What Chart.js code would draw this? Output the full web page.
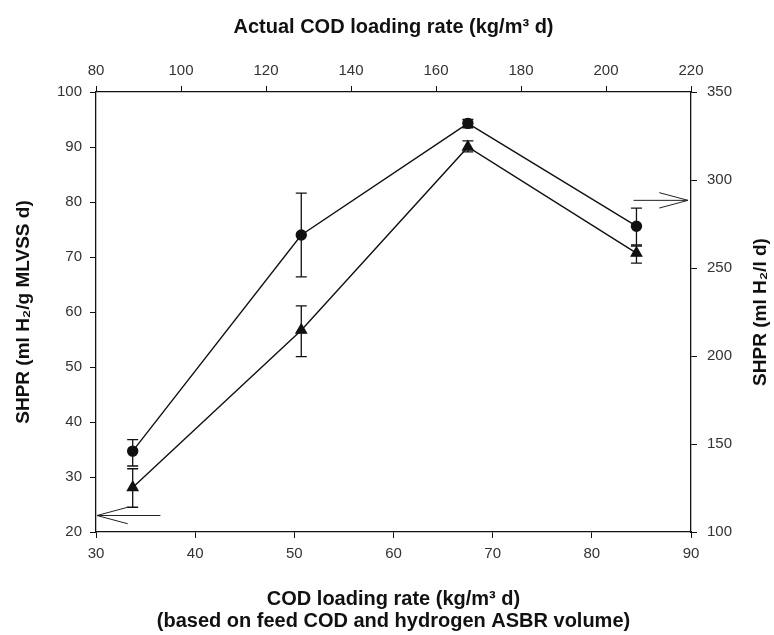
<!DOCTYPE html>
<html>
<head>
<meta charset="utf-8">
<script src="https://cdn.jsdelivr.net/npm/chart.js@4.4.1/dist/chart.umd.min.js"></script>
<style>
  html, body { margin: 0; padding: 0; background: #ffffff; }
  #wrap { width: 774px; height: 635px; position: relative; }
</style>
</head>
<body>
<div id="wrap"><canvas id="c" width="774" height="635"></canvas></div>
<script>
// ---- data ----
const codLoading = [33.7, 50.7, 67.5, 84.5];           // bottom axis (kg/m3 d)
const shprCircle = [34.7, 74.0, 94.3, 75.6];           // ml H2/g MLVSS d
const circleErrLow = [32.0, 66.4, 93.5, 72.2];
const circleErrHigh = [36.8, 81.6, 95.0, 78.9];
const shprTriangle = [28.1, 56.7, 90.0, 70.7];
const triangleErrLow = [24.5, 51.9, 89.1, 68.9];
const triangleErrHigh = [31.5, 61.1, 91.1, 72.0];

// annotation arrows (x in bottom-axis units, y in left-axis units)
const leftArrowX = [33.2, 30.1, 33.2, null, 30.1, 36.5];
const leftArrowY = [24.5, 23.0, 21.5, null, 23.0, 23.0];
const rightArrowX = [86.8, 89.7, 86.8, null, 89.7, 84.2];
const rightArrowY = [81.7, 80.3, 78.9, null, 80.3, 80.3];

// axis ranges / ticks
const bottomTicks = [30, 40, 50, 60, 70, 80, 90];
const topTicks = [80, 100, 120, 140, 160, 180, 200, 220];
const leftTicks = [20, 30, 40, 50, 60, 70, 80, 90, 100];
const rightTicks = [100, 150, 200, 250, 300, 350];

const rightTitle = 'SHPR (ml H\u2082/l d)';

const toXY = (xs, ys) => xs.map((x, i) => (x === null ? { x: null, y: null } : { x: x, y: ys[i] }));

const FONT = "'Liberation Sans', Arial, Helvetica, sans-serif";

const errorBars = {
  id: 'errorBars',
  afterDatasetsDraw(chart) {
    const ctx = chart.ctx;
    const xs = chart.scales.x, ys = chart.scales.y;
    const sets = [[circleErrLow, circleErrHigh], [triangleErrLow, triangleErrHigh]];
    ctx.save();
    ctx.strokeStyle = '#111';
    ctx.lineWidth = 1.3;
    sets.forEach(([lo, hi]) => {
      codLoading.forEach((xv, i) => {
        const px = xs.getPixelForValue(xv);
        const y1 = ys.getPixelForValue(lo[i]);
        const y2 = ys.getPixelForValue(hi[i]);
        ctx.beginPath();
        ctx.moveTo(px, y1); ctx.lineTo(px, y2);
        ctx.moveTo(px - 5.5, y1); ctx.lineTo(px + 5.5, y1);
        ctx.moveTo(px - 5.5, y2); ctx.lineTo(px + 5.5, y2);
        ctx.stroke();
      });
    });
    ctx.restore();
  }
};

// right axis title, read bottom-to-top like the reference
const rightTitlePlugin = {
  id: 'rightTitle',
  afterDraw(chart) {
    const ctx = chart.ctx;
    const a = chart.chartArea;
    ctx.save();
    ctx.translate(761, (a.top + a.bottom) / 2);
    ctx.rotate(-Math.PI / 2);
    ctx.font = "bold 19px " + FONT;
    ctx.fillStyle = '#111';
    ctx.textAlign = 'center';
    ctx.textBaseline = 'middle';
    ctx.fillText(rightTitle, 0, 0);
    ctx.restore();
  }
};

const axisCommon = (tickLen) => ({
  grid: { display: true, drawOnChartArea: false, drawTicks: true, tickLength: tickLen, color: '#111', lineWidth: 1 },
  border: { display: true, color: '#111', width: 1.3 },
});

new Chart(document.getElementById('c'), {
  type: 'line',
  data: {
    datasets: [
      {
        label: 'circle',
        data: toXY(codLoading, shprCircle),
        borderColor: '#111', backgroundColor: '#111', borderWidth: 1.4,
        pointStyle: 'circle', pointRadius: 5, pointBackgroundColor: '#111', pointBorderColor: '#111',
        xAxisID: 'x', yAxisID: 'y', tension: 0
      },
      {
        label: 'triangle',
        data: toXY(codLoading, shprTriangle),
        borderColor: '#111', backgroundColor: '#111', borderWidth: 1.4,
        pointStyle: 'triangle', pointRadius: 6, pointBackgroundColor: '#111', pointBorderColor: '#111',
        xAxisID: 'x', yAxisID: 'y', tension: 0
      },
      {
        label: 'arrowLeft',
        data: toXY(leftArrowX, leftArrowY),
        borderColor: '#222', borderWidth: 1, pointRadius: 0, spanGaps: false,
        xAxisID: 'x', yAxisID: 'y', tension: 0
      },
      {
        label: 'arrowRight',
        data: toXY(rightArrowX, rightArrowY),
        borderColor: '#222', borderWidth: 1, pointRadius: 0, spanGaps: false,
        xAxisID: 'x', yAxisID: 'y', tension: 0
      }
    ]
  },
  options: {
    responsive: false,
    animation: false,
    layout: { padding: 0 },
    plugins: { legend: { display: false }, tooltip: { enabled: false } },
    scales: {
      x: {
        type: 'linear', position: 'bottom', min: 30, max: 90,
        afterBuildTicks: s => { s.ticks = bottomTicks.map(v => ({ value: v })); },
        afterFit: s => { s.height = 103; },
        ticks: { color: '#333', font: { family: FONT, size: 15 }, padding: 7, maxRotation: 0 },
        title: {
          display: true,
          text: ['COD loading rate (kg/m\u00B3 d)', '(based on feed COD and hydrogen ASBR volume)'],
          color: '#111', font: { family: FONT, size: 20, weight: 'bold', lineHeight: 1.1 },
          padding: { top: 0, bottom: 3 }
        },
        ...axisCommon(6)
      },
      x2: {
        type: 'linear', position: 'top', min: 80, max: 220,
        afterBuildTicks: s => { s.ticks = topTicks.map(v => ({ value: v })); },
        afterFit: s => { s.height = 92; },
        ticks: { color: '#333', font: { family: FONT, size: 15 }, padding: 6, maxRotation: 0 },
        title: {
          display: true, text: 'Actual COD loading rate (kg/m\u00B3 d)',
          color: '#111', font: { family: FONT, size: 20, weight: 'bold', lineHeight: 1.2 },
          padding: { top: 15, bottom: 0 }
        },
        ...axisCommon(6)
      },
      y: {
        type: 'linear', position: 'left', min: 20, max: 100,
        afterBuildTicks: s => { s.ticks = leftTicks.map(v => ({ value: v })); },
        afterFit: s => { s.width = 96; },
        ticks: { color: '#333', font: { family: FONT, size: 15 }, padding: 8 },
        title: {
          display: true, text: 'SHPR (ml H\u2082/g MLVSS d)',
          color: '#111', font: { family: FONT, size: 19, weight: 'bold', lineHeight: 1.2 },
          padding: { top: 12, bottom: 0 }
        },
        ...axisCommon(6)
      },
      y2: {
        type: 'linear', position: 'right', min: 100, max: 350,
        afterBuildTicks: s => { s.ticks = rightTicks.map(v => ({ value: v })); },
        afterFit: s => { s.width = 83; },
        ticks: { color: '#333', font: { family: FONT, size: 15 }, padding: 10 },
        title: { display: false },
        ...axisCommon(6)
      }
    }
  },
  plugins: [errorBars, rightTitlePlugin]
});
</script>
</body>
</html>
